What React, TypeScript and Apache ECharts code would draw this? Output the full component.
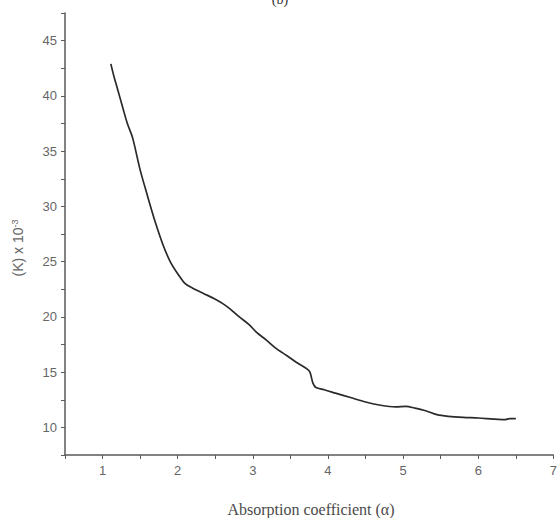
import React, { useEffect, useRef } from "react";
import * as echarts from "echarts";

const alpha = [1.11, 1.15, 1.2, 1.27, 1.33, 1.4, 1.5, 1.6, 1.7, 1.8, 1.9, 2.0, 2.1, 2.2, 2.35, 2.5, 2.6, 2.7, 2.82, 2.95, 3.05, 3.18, 3.3, 3.45, 3.6, 3.72, 3.76, 3.8, 3.84, 3.95, 4.1, 4.3, 4.5, 4.7, 4.9, 5.04, 5.15, 5.3, 5.45, 5.6, 5.8, 6.0, 6.2, 6.35, 6.42, 6.5];
const kValues = [42.9, 41.8, 40.6, 38.9, 37.5, 36.2, 33.3, 30.9, 28.6, 26.6, 25.0, 23.9, 23.0, 22.6, 22.1, 21.6, 21.2, 20.7, 20.0, 19.3, 18.6, 17.9, 17.2, 16.5, 15.8, 15.3, 15.0, 14.0, 13.6, 13.4, 13.1, 12.7, 12.3, 12.0, 11.85, 11.9, 11.75, 11.5, 11.15, 11.0, 10.9, 10.85, 10.75, 10.7, 10.8, 10.8];
const xTickLabels = [1, 2, 3, 4, 5, 6, 7];
const yTickLabels = [10, 15, 20, 25, 30, 35, 40, 45];

export default function App() {
  const ref = useRef<HTMLDivElement>(null);
  useEffect(() => {
    if (!ref.current) return;
    const chart = echarts.init(ref.current, undefined, { renderer: "svg" });
    const axisColor = "#5a5a5a";
    const labelColor = "#666666";
    chart.setOption({
      animation: false,
      backgroundColor: "#ffffff",
      grid: { left: 65, right: 5, top: 13, bottom: 63, containLabel: false },
      xAxis: {
        type: "value",
        min: 0.5,
        max: 7,
        interval: 0.5,
        axisLine: { show: true, lineStyle: { color: axisColor, width: 1.5 } },
        axisTick: { show: true, inside: false, length: 4, lineStyle: { color: axisColor, width: 1 } },
        splitLine: { show: false },
        axisLabel: {
          color: labelColor,
          fontFamily: "Liberation Sans, Arial, sans-serif",
          fontSize: 13,
          margin: 9,
          formatter: (v: number) => (xTickLabels.indexOf(v) >= 0 ? String(v) : ""),
        },
      },
      yAxis: {
        type: "value",
        min: 7.5,
        max: 47.5,
        interval: 2.5,
        axisLine: { show: true, lineStyle: { color: axisColor, width: 1.5 } },
        axisTick: { show: true, inside: false, length: 4, lineStyle: { color: axisColor, width: 1 } },
        splitLine: { show: false },
        axisLabel: {
          color: labelColor,
          fontFamily: "Liberation Sans, Arial, sans-serif",
          fontSize: 13,
          margin: 8,
          formatter: (v: number) => (yTickLabels.indexOf(v) >= 0 ? String(v) : ""),
        },
      },
      graphic: [
        {
          type: "text",
          x: 311,
          y: 501,
          style: {
            text: "Absorption coefficient (α)",
            font: "16px 'Liberation Serif', 'Times New Roman', serif",
            fill: "#4a4a4a",
            textAlign: "center",
            textVerticalAlign: "top",
          },
        },
        {
          type: "text",
          x: 18,
          y: 248,
          rotation: Math.PI / 2,
          style: {
            text: "{m|(K) x 10}{s|-3}",
            textAlign: "center",
            textVerticalAlign: "middle",
            rich: {
              m: { font: "14px 'Liberation Sans', Arial, sans-serif", fill: "#666666" },
              s: { font: "9px 'Liberation Sans', Arial, sans-serif", fill: "#666666", verticalAlign: "top", padding: [0, 0, 7, 0] },
            },
          },
        },
        {
          type: "text",
          x: 280,
          y: -8,
          style: {
            text: "(b)",
            font: "14px 'Liberation Serif', 'Times New Roman', serif",
            fill: "#333333",
            textAlign: "center",
            textVerticalAlign: "top",
          },
        },
      ],
      series: [
        {
          type: "line",
          data: alpha.map((a, i) => [a, kValues[i]]),
          showSymbol: false,
          smooth: 0.3,
          lineStyle: { color: "#2a2a2a", width: 1.7 },
        },
      ],
    });
    return () => chart.dispose();
  }, []);
  return <div ref={ref} style={{ position: "absolute", left: 0, top: 0, width: 560, height: 518 }} />;
}
